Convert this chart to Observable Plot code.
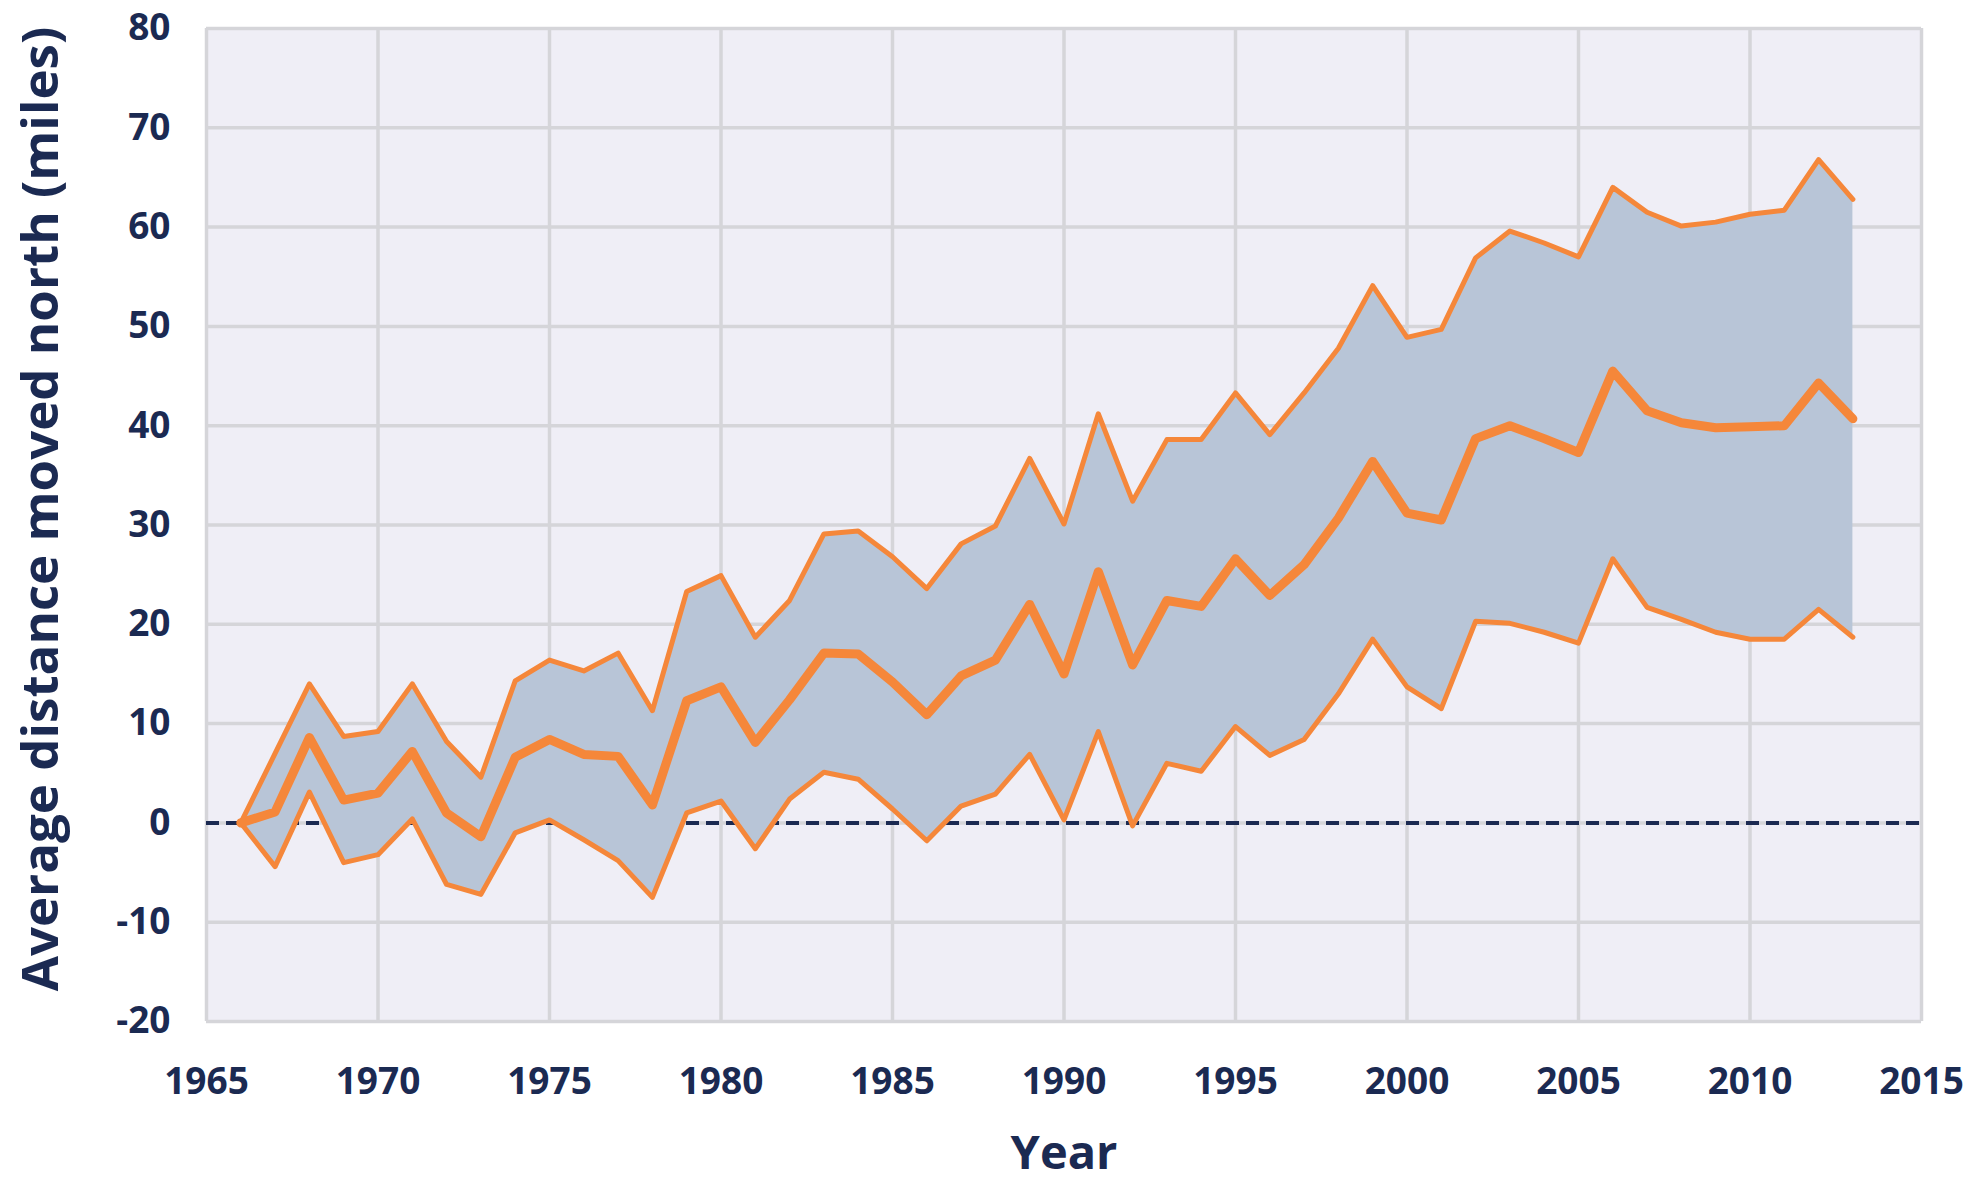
<!DOCTYPE html>
<html>
<head>
<meta charset="utf-8">
<script src="https://cdn.jsdelivr.net/npm/d3@7"></script>
<script src="https://cdn.jsdelivr.net/npm/@observablehq/plot@0.6"></script>
<style>
  html, body { margin: 0; padding: 0; background: #ffffff; }
  #chart { width: 1982px; height: 1188px; }
</style>
</head>
<body>
<div id="chart"></div>
<script>
const years = [1966,1967,1968,1969,1970,1971,1972,1973,1974,1975,1976,1977,1978,1979,1980,1981,1982,1983,1984,1985,1986,1987,1988,1989,1990,1991,1992,1993,1994,1995,1996,1997,1998,1999,2000,2001,2002,2003,2004,2005,2006,2007,2008,2009,2010,2011,2012,2013];
const upper = [0,7.0,14.0,8.7,9.2,14.0,8.2,4.6,14.3,16.4,15.3,17.1,11.3,23.3,24.9,18.7,22.4,29.1,29.4,26.8,23.6,28.1,29.9,36.7,30.1,41.2,32.4,38.6,38.6,43.3,39.1,43.3,47.8,54.1,48.9,49.7,56.9,59.6,58.4,57.0,64.0,61.5,60.1,60.5,61.3,61.7,66.8,62.8];
const middle = [0,1.1,8.6,2.3,3.0,7.2,1.0,-1.4,6.6,8.4,6.9,6.7,1.8,12.3,13.7,8.1,12.4,17.1,17.0,14.2,10.9,14.8,16.4,22.0,15.0,25.3,15.9,22.4,21.8,26.6,22.9,26.0,30.7,36.4,31.2,30.5,38.7,40.0,38.7,37.3,45.5,41.5,40.3,39.8,39.9,40.0,44.3,40.7];
const lower = [0,-4.4,3.1,-4.0,-3.2,0.4,-6.2,-7.2,-1.0,0.3,-1.7,-3.8,-7.5,1.0,2.2,-2.6,2.4,5.1,4.4,1.4,-1.8,1.7,2.9,6.9,0.3,9.2,-0.3,6.0,5.2,9.7,6.8,8.4,13.0,18.5,13.7,11.5,20.3,20.1,19.2,18.1,26.6,21.7,20.5,19.2,18.5,18.5,21.5,18.7];
const xTicks = [1965,1970,1975,1980,1985,1990,1995,2000,2005,2010,2015];
const yTicks = [-20,-10,0,10,20,30,40,50,60,70,80];
const yTitle = "Average distance moved north (miles)";
const xTitle = "Year";

const data = years.map((year, i) => ({year, upper: upper[i], middle: middle[i], lower: lower[i]}));

const navy = "#1b2a52";
const orange = "#f5873a";

const chart = Plot.plot({
  width: 1982,
  height: 1188,
  marginLeft: 206,
  marginRight: 61,
  marginTop: 28,
  marginBottom: 167,
  x: {domain: [1965, 2015], ticks: xTicks, tickFormat: d => String(d), tickSize: 0, tickPadding: 46, label: null},
  y: {domain: [-20, 80], ticks: yTicks, tickFormat: d => String(d), tickSize: 0, tickPadding: 36, label: null},
  style: {fontFamily: "'Open Sans', sans-serif", fontWeight: 700, fontSize: "37px", color: navy, background: "#ffffff"},
  marks: [
    Plot.frame({fill: "#efeef6", stroke: null}),
    Plot.gridX(xTicks, {stroke: "#d5d5d9", strokeOpacity: 1, strokeWidth: 3.5}),
    Plot.gridY(yTicks, {stroke: "#d5d5d9", strokeOpacity: 1, strokeWidth: 3.5}),
    Plot.ruleY([0], {stroke: navy, strokeWidth: 4, strokeDasharray: "13,7"}),
    Plot.areaY(data, {x: "year", y1: "lower", y2: "upper", fill: "#b8c5d7"}),
    Plot.lineY(data, {x: "year", y: "upper", stroke: orange, strokeWidth: 5, strokeLinejoin: "round"}),
    Plot.lineY(data, {x: "year", y: "lower", stroke: orange, strokeWidth: 5, strokeLinejoin: "round"}),
    Plot.lineY(data, {x: "year", y: "middle", stroke: orange, strokeWidth: 9, strokeLinejoin: "round"}),
    Plot.axisX({ticks: xTicks, tickFormat: d => String(d), tickSize: 0, tickPadding: 46, label: null}),
    Plot.axisY({ticks: yTicks, tickFormat: d => String(d), tickSize: 0, tickPadding: 36, label: null}),
    Plot.text([yTitle], {text: d => d, frameAnchor: "left", textAnchor: "middle", rotate: -90, dx: -165, dy: -16, fontSize: 51, fontWeight: 700, fill: navy}),
    Plot.text([xTitle], {text: d => d, frameAnchor: "bottom", lineAnchor: "middle", dy: 132, fontSize: 47, fontWeight: 700, fill: navy})
  ]
});

document.getElementById("chart").appendChild(chart);
</script>
</body>
</html>
